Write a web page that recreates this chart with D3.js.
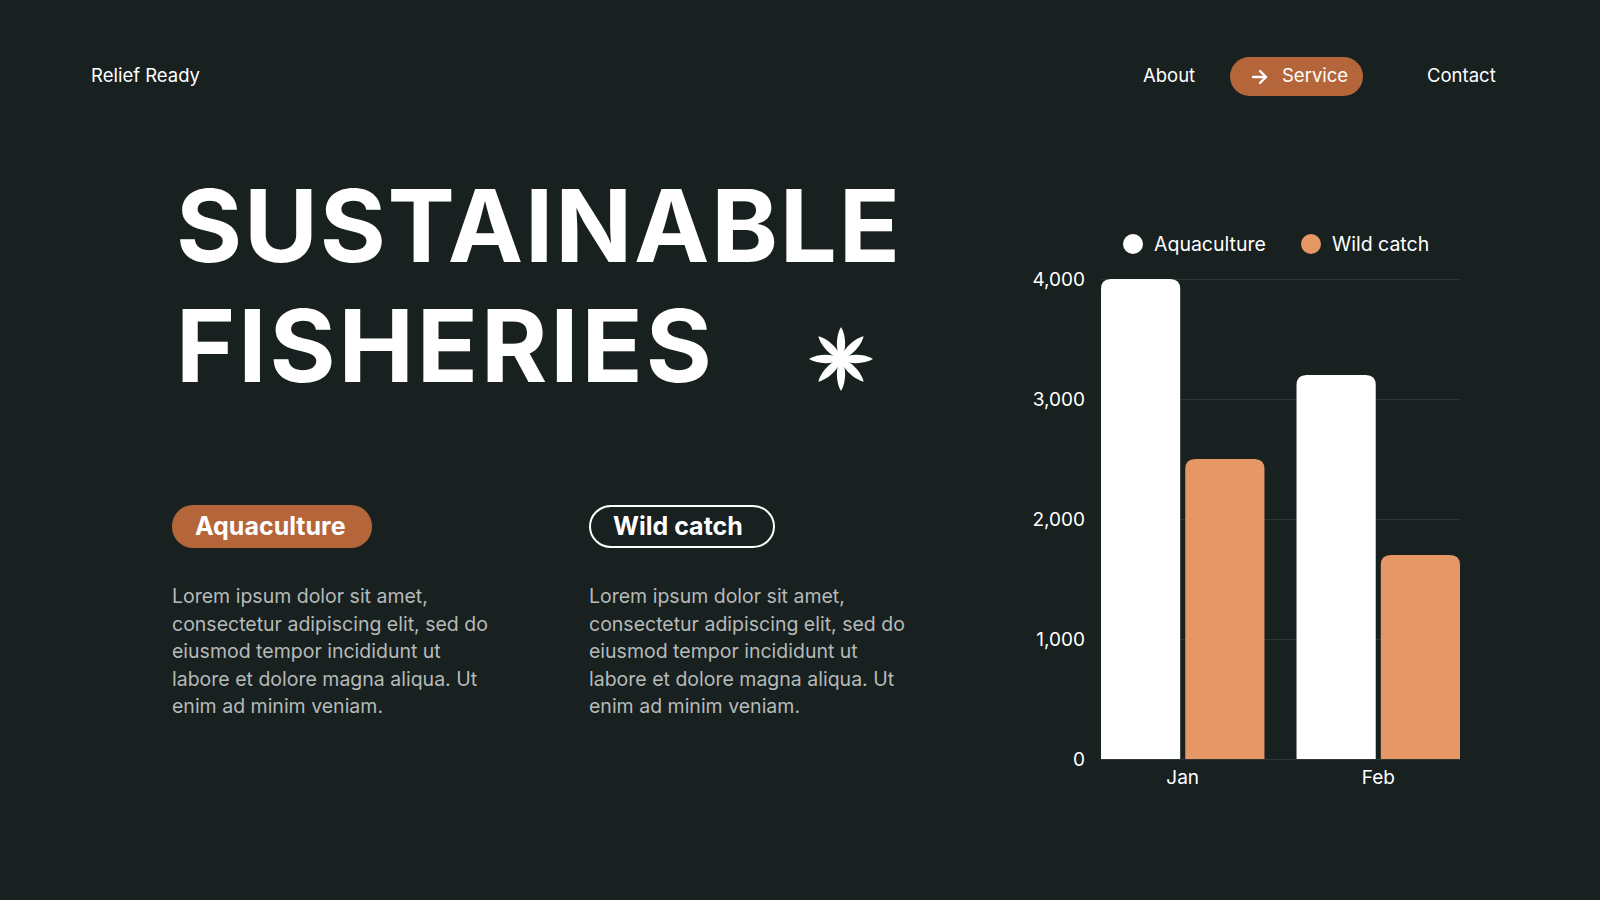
<!DOCTYPE html>
<html>
<head>
<meta charset="utf-8">
<script src="https://cdn.jsdelivr.net/npm/d3@7"></script>
<style>
  html, body { margin: 0; padding: 0; background: #182020; }
  svg { display: block; font-family: Inter, "Noto Sans", sans-serif; }
</style>
</head>
<body>
<script>
// chart values
const months = ["Jan", "Feb"];
const seriesNames = ["Aquaculture", "Wild catch"];
const aquaculture = [4000, 3200];
const wildCatch = [2500, 1700];
const yTicks = [0, 1000, 2000, 3000, 4000];

// page texts
const navLinks = ["About", "Service", "Contact"];
const titleLines = ["SUSTAINABLE", "FISHERIES"];
const lorem = [
	"Lorem ipsum dolor sit amet,",
	"consectetur adipiscing elit, sed do",
	"eiusmod tempor incididunt ut",
	"labore et dolore magna aliqua. Ut",
	"enim ad minim veniam."
];

const W = 1600, H = 900;
const bg = "#182020";
const orange = "#e69766";
const rust = "#b5653a";
const colors = ["#ffffff", orange];

const svg = d3.select("body")
	.append("svg")
	.attr("width", W)
	.attr("height", H);

svg.append("rect").attr("width", W).attr("height", H).attr("fill", bg);

// --- header ---
svg.append("text")
	.attr("x", 91).attr("y", 82)
	.attr("fill", "#fff").attr("font-size", 18.5)
	.text("Relief Ready");

svg.append("rect")
	.attr("x", 1230).attr("y", 57)
	.attr("width", 133).attr("height", 39)
	.attr("rx", 19.5)
	.attr("fill", rust);

const arrow = svg.append("g")
	.attr("stroke", "#fff").attr("stroke-width", 2.4)
	.attr("fill", "none").attr("stroke-linecap", "round").attr("stroke-linejoin", "round");
arrow.append("line").attr("x1", 1253).attr("y1", 77).attr("x2", 1266).attr("y2", 77);
arrow.append("polyline").attr("points", "1260,71 1266,77 1260,83");

svg.selectAll("text.nav")
	.data(navLinks)
	.join("text")
	.attr("class", "nav")
	.attr("x", (d, i) => [1143, 1282, 1427][i])
	.attr("y", 82)
	.attr("fill", "#fff")
	.attr("font-size", 18.5)
	.text(d => d);

// --- title ---
svg.selectAll("text.title")
	.data(titleLines)
	.join("text")
	.attr("class", "title")
	.attr("x", 176)
	.attr("y", (d, i) => 262 + i * 120)
	.attr("fill", "#fff")
	.attr("font-size", 101)
	.attr("font-weight", 700)
	.attr("textLength", (d, i) => [724, 536][i])
	.attr("lengthAdjust", "spacing")
	.text(d => d);

// star, 8 petals
const star = svg.append("g").attr("transform", "translate(841,359)");
star.selectAll("path")
	.data(d3.range(8))
	.join("path")
	.attr("d", "M0,0 C8,-6 24,-5 32,0 C24,5 8,6 0,0 Z")
	.attr("transform", d => `rotate(${d * 45})`)
	.attr("fill", "#fff");
star.append("circle").attr("r", 5).attr("fill", "#fff");

// --- pills + lorem columns ---
const colX = [172, 589];
const pillW = [200, 186];
const cols = svg.selectAll("g.col")
	.data(seriesNames)
	.join("g")
	.attr("class", "col")
	.attr("transform", (d, i) => `translate(${colX[i]},0)`);

cols.append("rect")
	.attr("x", (d, i) => i ? 1 : 0)
	.attr("y", (d, i) => i ? 506 : 505)
	.attr("width", (d, i) => i ? pillW[i] - 2 : pillW[i])
	.attr("height", (d, i) => i ? 41 : 43)
	.attr("rx", 21)
	.attr("fill", (d, i) => i ? "none" : rust)
	.attr("stroke", (d, i) => i ? "#fff" : "none")
	.attr("stroke-width", 2);

cols.append("text")
	.attr("x", (d, i) => i ? 24 : 23)
	.attr("y", 535)
	.attr("fill", "#fff")
	.attr("font-size", 25)
	.attr("font-weight", 700)
	.text(d => d);

cols.selectAll("text.body")
	.data(lorem)
	.join("text")
	.attr("class", "body")
	.attr("x", 0)
	.attr("y", (d, i) => 603 + i * 27.5)
	.attr("fill", "#b6bab9")
	.attr("font-size", 19.5)
	.text(d => d);

// --- bar chart ---
const x0 = d3.scaleBand()
	.domain(months)
	.range([1101, 1460])
	.paddingInner(0.164)
	.paddingOuter(0);

const x1 = d3.scaleBand()
	.domain(seriesNames)
	.range([0, x0.bandwidth()])
	.paddingInner(0.06);

const y = d3.scaleLinear()
	.domain([0, 4000])
	.range([759, 279]);

const color = d3.scaleOrdinal().domain(seriesNames).range(colors);

// gridlines
svg.append("g")
	.attr("transform", "translate(1101,0)")
	.call(d3.axisLeft(y).tickValues(yTicks).tickSize(-(1460 - 1101)).tickFormat(""))
	.call(g => g.select(".domain").remove())
	.call(g => g.selectAll("line").attr("stroke", "#2e3735").attr("stroke-width", 1));

// y labels
svg.append("g")
	.attr("transform", "translate(1101,0)")
	.call(d3.axisLeft(y).tickValues(yTicks).tickSize(0).tickPadding(16).tickFormat(d3.format(",")))
	.call(g => g.select(".domain").remove())
	.call(g => g.selectAll("text")
		.attr("fill", "#fff")
		.attr("font-size", 19)
		.attr("font-family", "Inter, sans-serif"));

function topRounded(x, yTop, w, h, r) {
	r = Math.min(r, w / 2, h);
	return `M${x},${yTop + h}V${yTop + r}Q${x},${yTop} ${x + r},${yTop}H${x + w - r}Q${x + w},${yTop} ${x + w},${yTop + r}V${yTop + h}Z`;
}

const rows = months.map((m, i) => ({
	month: m,
	values: [
		{ key: seriesNames[0], value: aquaculture[i] },
		{ key: seriesNames[1], value: wildCatch[i] }
	]
}));

svg.append("g")
	.selectAll("g")
	.data(rows)
	.join("g")
	.attr("transform", d => `translate(${x0(d.month)},0)`)
	.selectAll("path")
	.data(d => d.values)
	.join("path")
	.attr("d", d => topRounded(x1(d.key), y(d.value), x1.bandwidth(), y(0) - y(d.value), 10))
	.attr("fill", d => color(d.key));

// x labels
svg.append("g")
	.attr("transform", "translate(0,759)")
	.call(d3.axisBottom(x0).tickSize(0))
	.call(g => g.select(".domain").remove())
	.call(g => g.selectAll("text")
		.attr("y", 25)
		.attr("dy", 0)
		.attr("fill", "#fff")
		.attr("font-size", 19)
		.attr("font-family", "Inter, sans-serif"));

// legend
const legend = svg.append("g")
	.selectAll("g")
	.data(seriesNames)
	.join("g")
	.attr("transform", (d, i) => `translate(${[1133, 1311][i]},244)`);

legend.append("circle")
	.attr("r", 10)
	.attr("fill", d => color(d));

legend.append("text")
	.attr("x", 21)
	.attr("y", 7)
	.attr("fill", "#fff")
	.attr("font-size", 19.5)
	.text(d => d);
</script>
</body>
</html>
